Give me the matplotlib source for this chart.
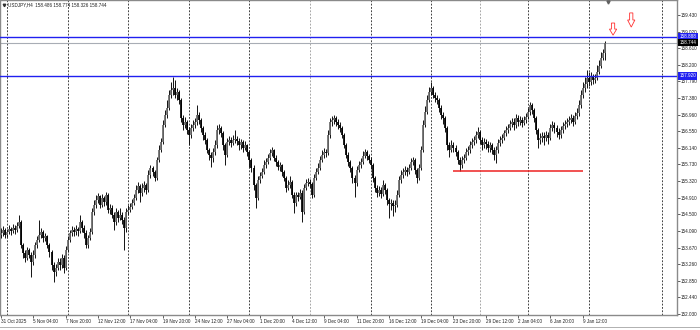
import matplotlib
matplotlib.use('Agg')
import matplotlib.pyplot as plt
from matplotlib.patches import Polygon
from matplotlib.lines import Line2D
import numpy as np

plt.rcParams['font.family'] = ['Liberation Sans', 'DejaVu Sans']

symbol = 'USDJPY,H4'
first_open = 153.98
closes = [
154.03,154.11,153.98,154.06,154.13,154.08,154.16,154.11,154.21,154.31,
153.74,153.54,153.41,153.61,153.49,153.32,153.49,153.74,153.86,153.98,
154.06,153.91,153.96,153.74,153.56,153.24,153.07,153.17,153.32,153.24,
153.41,153.17,153.61,153.86,154.03,154.11,154.06,154.13,154.08,154.31,
154.16,154.03,153.74,153.91,154.06,154.55,154.73,154.85,154.95,154.73,
154.90,154.80,154.97,154.60,154.65,154.48,154.31,154.55,154.40,154.48,
154.36,154.16,154.55,154.60,154.68,154.78,154.90,155.10,155.20,155.02,
155.15,155.22,155.10,155.47,155.64,155.54,155.39,155.84,156.09,156.29,
156.71,156.95,157.13,157.45,157.57,157.62,157.45,157.52,157.33,156.88,
156.71,156.78,156.58,156.46,156.63,156.71,156.78,156.95,156.83,156.63,
156.46,156.34,156.09,155.96,155.89,156.04,156.21,156.58,156.63,156.51,
156.21,155.96,156.29,156.34,156.26,156.34,156.36,156.31,156.21,156.29,
156.14,156.21,156.04,155.84,155.64,155.22,154.90,155.35,155.44,155.54,
155.72,155.79,155.89,156.01,156.09,155.89,155.79,155.67,155.72,155.54,
155.39,155.15,155.22,155.30,154.97,154.78,154.97,154.92,155.02,154.55,
155.15,155.27,155.30,155.25,154.97,155.39,155.54,155.64,155.84,155.96,
156.04,156.01,156.46,156.78,156.83,156.88,156.78,156.71,156.63,156.46,
156.21,155.96,155.79,155.64,155.39,155.27,155.59,155.72,155.79,155.94,
156.04,155.94,155.84,155.72,155.39,155.15,155.02,155.10,155.00,155.22,
155.10,154.85,154.75,154.78,154.70,154.73,154.97,155.35,155.47,155.54,
155.59,155.54,155.64,155.79,155.84,155.59,155.39,155.64,156.09,156.71,
157.03,157.33,157.52,157.62,157.45,157.37,157.33,157.13,156.95,156.88,
156.63,156.21,156.09,156.21,156.14,156.04,155.84,155.72,155.84,155.89,
156.04,156.09,156.21,156.29,156.34,156.46,156.53,156.34,156.21,156.29,
156.24,156.14,156.21,156.09,155.96,156.09,156.26,156.34,156.38,156.51,
156.58,156.63,156.73,156.78,156.71,156.88,156.78,156.83,156.76,156.83,
156.90,157.03,157.20,157.08,156.88,156.58,156.34,156.38,156.43,156.38,
156.46,156.38,156.63,156.71,156.63,156.53,156.46,156.58,156.68,156.73,
156.78,156.83,156.88,156.78,156.93,157.00,157.20,157.45,157.62,157.72,
157.87,157.77,157.92,157.82,157.87,158.02,158.17,158.36,158.486,158.744]

highs = [
154.16,154.21,154.16,154.13,154.23,154.18,154.26,154.23,154.31,154.48,
154.36,153.79,153.61,153.69,153.66,153.56,153.61,153.81,153.96,154.36,
154.16,154.11,154.03,153.98,153.79,153.61,153.32,153.27,153.41,153.41,
153.51,153.49,153.71,153.96,154.11,154.21,154.18,154.23,154.18,154.48,
154.36,154.23,154.11,153.98,154.16,154.65,154.85,154.97,155.02,154.97,
155.00,154.95,155.05,155.02,154.75,154.73,154.55,154.65,154.60,154.65,
154.55,154.43,154.65,154.73,154.78,154.88,155.00,155.22,155.30,155.25,
155.27,155.32,155.27,155.59,155.72,155.69,155.59,155.91,156.21,156.38,
156.83,157.08,157.33,157.57,157.77,157.89,157.82,157.62,157.57,157.37,
156.95,156.90,156.83,156.66,156.73,156.83,156.88,157.20,157.03,156.88,
156.68,156.53,156.38,156.14,156.04,156.14,156.34,156.71,156.73,156.68,
156.56,156.26,156.38,156.43,156.41,156.46,156.58,156.43,156.38,156.36,
156.34,156.31,156.24,156.09,155.89,155.72,155.27,155.44,155.54,155.64,
155.84,155.89,155.99,156.11,156.16,156.11,155.96,155.84,155.79,155.74,
155.59,155.44,155.35,155.44,155.35,155.05,155.05,155.05,155.12,155.10,
155.25,155.37,155.39,155.37,155.30,155.49,155.64,155.77,155.94,156.09,
156.14,156.11,156.58,156.88,156.93,156.95,156.93,156.86,156.78,156.68,
156.51,156.26,156.04,155.84,155.69,155.47,155.69,155.82,155.89,156.06,
156.11,156.09,155.99,155.91,155.77,155.44,155.22,155.20,155.17,155.35,
155.27,155.15,154.90,154.88,154.85,154.85,155.10,155.44,155.59,155.64,
155.69,155.67,155.74,155.89,155.91,155.89,155.64,155.74,156.19,156.83,
157.18,157.45,157.65,157.77,157.67,157.52,157.45,157.37,157.20,157.03,
156.93,156.68,156.29,156.34,156.29,156.21,156.09,155.91,155.94,155.99,
156.14,156.19,156.31,156.38,156.43,156.56,156.66,156.58,156.41,156.38,
156.36,156.31,156.29,156.26,156.16,156.19,156.36,156.43,156.48,156.58,
156.68,156.73,156.83,156.88,156.88,156.98,156.95,156.93,156.90,156.93,
157.00,157.13,157.28,157.25,157.13,156.93,156.63,156.51,156.53,156.53,
156.56,156.53,156.73,156.81,156.78,156.71,156.63,156.68,156.78,156.83,
156.88,156.93,156.98,156.95,157.03,157.13,157.33,157.57,157.77,157.89,
158.07,158.02,158.02,157.97,157.97,158.19,158.32,158.51,158.59,158.774]

lows = [
153.91,153.96,153.91,153.93,154.01,153.98,154.03,154.01,154.06,154.16,
153.66,153.41,153.32,153.37,153.41,152.94,153.24,153.41,153.66,153.81,
153.91,153.81,153.84,153.66,153.44,153.12,152.82,152.97,153.12,153.12,
153.17,153.04,153.12,153.56,153.81,153.96,153.96,153.98,153.96,154.03,
154.06,153.91,153.66,153.66,153.86,154.01,154.48,154.65,154.78,154.65,
154.68,154.70,154.73,154.53,154.50,154.40,154.11,154.23,154.31,154.36,
154.26,153.61,154.06,154.48,154.55,154.63,154.73,154.85,155.02,154.80,
154.95,155.05,155.00,155.05,155.39,155.44,155.32,155.35,155.79,156.04,
156.24,156.66,156.88,157.08,157.37,157.45,157.37,157.33,157.23,156.78,
156.58,156.63,156.48,156.21,156.38,156.56,156.63,156.71,156.73,156.53,
156.34,156.24,156.01,155.84,155.67,155.79,155.96,156.14,156.48,156.41,
156.09,155.72,155.91,156.21,156.16,156.21,156.26,156.21,156.09,156.11,
156.04,156.09,155.94,155.67,155.54,155.10,154.65,154.85,155.27,155.39,
155.49,155.64,155.74,155.84,155.94,155.82,155.69,155.59,155.57,155.44,
155.32,155.05,155.10,155.15,154.90,154.53,154.70,154.83,154.88,154.31,
154.50,155.10,155.20,155.15,154.90,154.92,155.35,155.49,155.59,155.79,
155.89,155.91,155.96,156.38,156.68,156.73,156.68,156.61,156.53,156.38,
156.14,155.89,155.69,155.54,155.27,154.92,155.20,155.54,155.64,155.74,
155.89,155.84,155.77,155.62,155.30,155.05,154.92,154.95,154.90,154.95,
155.00,154.73,154.40,154.60,154.45,154.55,154.68,154.92,155.27,155.39,
155.47,155.44,155.49,155.59,155.72,155.49,155.27,155.35,155.59,156.04,
156.66,156.98,157.28,157.45,157.37,157.28,157.23,157.03,156.86,156.73,
156.53,156.09,155.91,156.04,156.04,155.94,155.74,155.57,155.64,155.77,
155.84,155.96,156.01,156.14,156.21,156.26,156.38,156.24,156.09,156.14,
156.11,156.04,156.04,155.99,155.84,155.77,156.01,156.19,156.26,156.34,
156.43,156.51,156.58,156.66,156.58,156.63,156.68,156.71,156.66,156.71,
156.76,156.86,156.95,156.98,156.78,156.48,156.14,156.24,156.29,156.21,
156.31,156.24,156.34,156.56,156.51,156.41,156.36,156.38,156.51,156.61,
156.66,156.71,156.76,156.68,156.73,156.86,156.93,157.13,157.37,157.52,
157.62,157.67,157.70,157.72,157.75,157.82,157.97,158.12,158.32,158.326]

time_labels = ['31 Oct 2025', '5 Nov 04:00', '7 Nov 20:00', '12 Nov 12:00', '17 Nov 04:00',
               '19 Nov 20:00', '24 Nov 12:00', '27 Nov 04:00', '1 Dec 20:00', '4 Dec 12:00',
               '9 Dec 04:00', '11 Dec 20:00', '16 Dec 12:00', '19 Dec 04:00', '23 Dec 20:00',
               '29 Dec 12:00', '2 Jan 04:00', '6 Jan 20:00', '9 Jan 12:00']
time_label_bars = [0, 16, 32, 48, 64, 80, 96, 112, 128, 144, 160, 176, 192, 208, 224,
                   240, 256, 272, 288]
week_start_bars = [3, 33, 63, 93, 123, 153, 183, 213, 237, 261, 291, 327]
light_week_bars = [153, 237]
price_ticks = [159.430, 159.020, 158.610, 158.200, 157.790, 157.380, 156.960, 156.550,
               156.140, 155.730, 155.320, 154.910, 154.500, 154.090, 153.670, 153.260,
               152.850, 152.440, 152.030]
blue_levels = [158.888, 157.920]
support_level = 155.56
support_from_bar, support_to_bar = 224, 288
arrow_bars = [303, 312]
arrow_tops = [159.23, 159.48]
arrow_bottoms = [158.93, 159.13]
shift_marker_bar = 300.5

W, H = 700, 330
fig = plt.figure(figsize=(W / 100, H / 100), dpi=100)
ax_right_px, ax_bottom_px = 677, 315
ax = fig.add_axes([0, (H - ax_bottom_px) / H, ax_right_px / W, ax_bottom_px / H])
px_per_bar = 2.02
ax.set_xlim(-1 / px_per_bar, (ax_right_px - 1) / px_per_bar)
ax.set_ylim(152.004, 159.80)

c = np.array(closes)
o = np.array([first_open] + closes[:-1])
h = np.maximum(np.array(highs), np.maximum(o, c))
l = np.minimum(np.array(lows), np.minimum(o, c))
x = np.arange(len(c))
up = c >= o

# grid
for wb in week_start_bars:
    col = '#9a9a9a' if wb in light_week_bars else '#222222'
    ax.axvline(wb, color=col, lw=0.6, ls=(0, (2.2, 1.8)), zorder=1)

# candles
ax.vlines(x, l, h, color='#111111', lw=0.7, zorder=3)
bot = np.minimum(o, c)
top = np.maximum(o, c)
top = np.where(top - bot < 0.02, bot + 0.02, top)
ax.vlines(x[up], bot[up], top[up], color='#6a6a6a', lw=1.25, zorder=4)
ax.vlines(x[~up], bot[~up], top[~up], color='#000000', lw=1.25, zorder=4)

# horizontal levels
for lv in blue_levels:
    ax.axhline(lv, color='#2020f0', lw=1.0, zorder=5)
last_price = c[-1]
ax.axhline(last_price, color='#a8adb5', lw=0.8, zorder=2)
ax.hlines(support_level, support_from_bar, support_to_bar, color='#ee2222', lw=1.1, zorder=5)

# red hollow arrows
for ab, at, abt in zip(arrow_bars, arrow_tops, arrow_bottoms):
    sw, hw = 1.6, 3.6
    yh = abt + 0.5 * (at - abt)
    pts = [(ab - sw / 2, at), (ab + sw / 2, at), (ab + sw / 2, yh), (ab + hw / 2, yh),
           (ab, abt), (ab - hw / 2, yh), (ab - sw / 2, yh)]
    ax.add_patch(Polygon(pts, closed=True, fill=False, ec='#ff3030', lw=0.6, zorder=6))

# chart-shift marker at top
ax.plot([shift_marker_bar], [159.76], marker='v', ms=2.2, color='#606060',
        clip_on=False, zorder=7)

# axes styling
for s in ax.spines.values():
    s.set_color('#8a8a8a')
    s.set_linewidth(1.0)
ax.yaxis.tick_right()
ax.set_yticks(price_ticks)
ax.set_yticklabels([f'{p:.3f}' for p in price_ticks])
ax.tick_params(axis='y', length=1.8, width=0.5, pad=1.2, labelsize=3.3, colors='#202020')
ax.set_xticks(time_label_bars)
ax.set_xticklabels(time_labels)
ax.tick_params(axis='x', length=1.8, width=0.5, pad=0.8, labelsize=3.3, colors='#202020')
for t in ax.get_xticklabels():
    t.set_horizontalalignment('left')

# price boxes on the axis
ytr = ax.get_yaxis_transform()
for lv in blue_levels:
    ax.text(1.0 + 2.5 / ax_right_px, lv, f'{lv:.3f}', transform=ytr, ha='left', va='center',
            fontsize=3.3, color='white', clip_on=False, zorder=10,
            bbox=dict(boxstyle='square,pad=0.25', fc='#2020f0', ec='#2020f0', lw=0))
ax.text(1.0 + 2.5 / ax_right_px, last_price, f'{last_price:.3f}', transform=ytr, ha='left',
        va='center', fontsize=3.3, color='white', clip_on=False, zorder=10,
        bbox=dict(boxstyle='square,pad=0.25', fc='#000000', ec='#000000', lw=0))

# header
fig.text(8 / W, 1 - 5 / H, f'{symbol}  {o[-1]:.3f} {h[-1]:.3f} {l[-1]:.3f} {c[-1]:.3f}',
         fontsize=3.3, va='center', ha='left', color='#202020')
fig.add_artist(Line2D([3.5 / W], [1 - 5 / H], marker='v', ms=1.8, color='#303030',
                      transform=fig.transFigure))
# bottom tab bar line
fig.add_artist(Line2D([0, 1], [3 / H, 3 / H], color='#b0b0b0', lw=0.7,
                      transform=fig.transFigure))

fig.savefig('out.png', dpi=100, facecolor='white')
